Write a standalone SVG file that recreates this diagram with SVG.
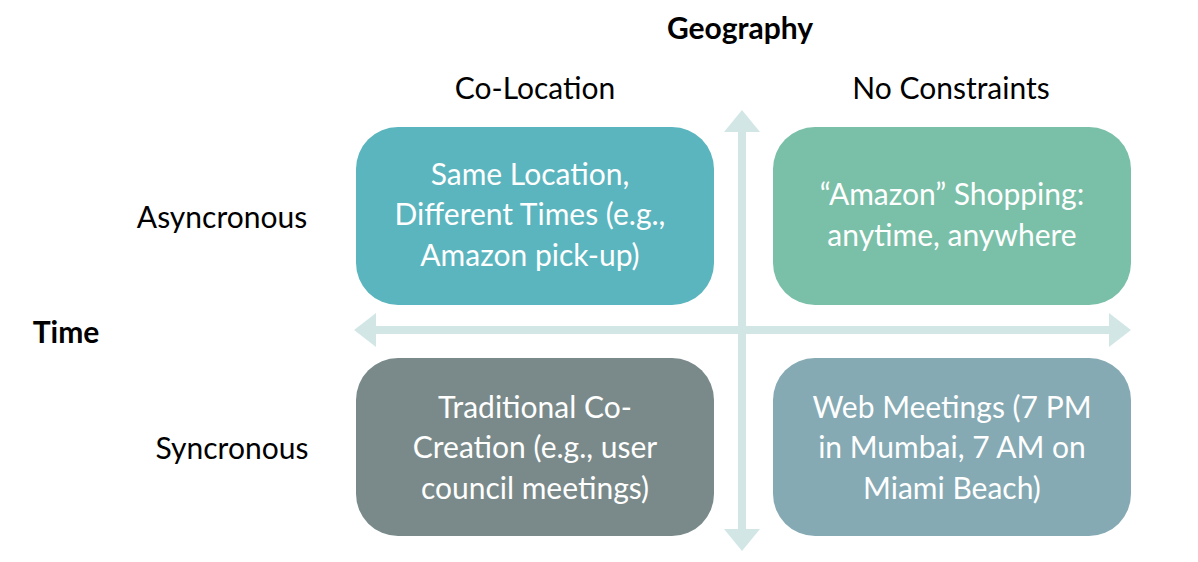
<svg xmlns="http://www.w3.org/2000/svg" width="1198" height="562" viewBox="0 0 1198 562">
<style>
text{font-family:Lato,"Open Sans",sans-serif;font-size:30px;text-anchor:middle}
.w{fill:#fff}
.k{fill:#000}
.b{font-weight:bold}
.ax{fill:#d3e6e6}
</style>
<rect width="1198" height="562" fill="#fff"/>
<g id="connectors">
<rect class="ax" x="738" y="130" width="8" height="400"/>
<polygon class="ax" points="742,110 760,132 724,132"/>
<polygon class="ax" points="742,551 760,529 724,529"/>
<rect class="ax" x="374" y="326" width="737" height="8"/>
<polygon class="ax" points="354,330 376,313 376,347"/>
<polygon class="ax" points="1131,330 1109,313 1109,347"/>
</g>
<g id="title-geo"><text class="k b" x="740" y="39">Geography</text></g>
<g id="col1"><text class="k" x="535" y="99">Co-Location</text></g>
<g id="col2"><text class="k" x="951" y="99">No Constraints</text></g>
<g id="title-time"><text class="k b" x="66" y="343">Time</text></g>
<g id="row1"><text class="k" x="222" y="228">Asyncronous</text></g>
<g id="row2"><text class="k" x="232" y="459">Syncronous</text></g>
<g id="tl"><rect x="356" y="127" width="358" height="178" rx="42" fill="#5bb5be"/>
<text class="w" x="530" y="185">Same Location,</text>
<text class="w" x="530" y="225">Different Times (e.g.,</text>
<text class="w" x="530" y="266">Amazon pick-up)</text></g>
<g id="tr"><rect x="773" y="127" width="358" height="178" rx="42" fill="#7abfa8"/>
<text class="w" x="952" y="205">“Amazon” Shopping:</text>
<text class="w" x="952" y="246">anytime, anywhere</text></g>
<g id="bl"><rect x="356" y="358" width="358" height="178" rx="42" fill="#7a8a8a"/>
<text class="w" x="535" y="418">Traditional Co-</text>
<text class="w" x="535" y="458">Creation (e.g., user</text>
<text class="w" x="535" y="499">council meetings)</text></g>
<g id="br"><rect x="773" y="358" width="358" height="178" rx="42" fill="#85aab4"/>
<text class="w" x="952" y="418">Web Meetings (7 PM</text>
<text class="w" x="952" y="458">in Mumbai, 7 AM on</text>
<text class="w" x="952" y="499">Miami Beach)</text></g>
</svg>
